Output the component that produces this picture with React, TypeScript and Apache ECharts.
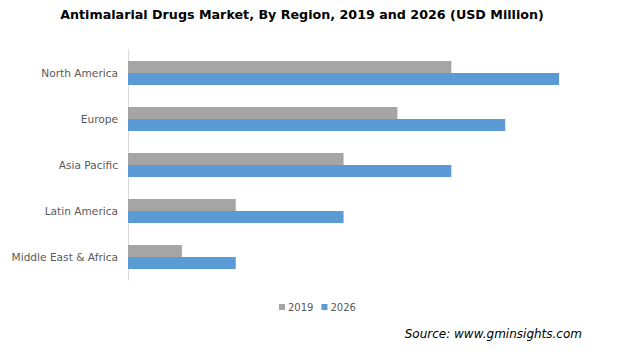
import React, { useEffect, useRef } from "react";
import * as echarts from "echarts";

const categories = ["North America", "Europe", "Asia Pacific", "Latin America", "Middle East & Africa"];
const values2019 = [6, 5, 4, 2, 1];
const values2026 = [8, 7, 6, 4, 2];
const seriesNames = ["2019", "2026"];

export default function App() {
  const ref = useRef<HTMLDivElement>(null);
  useEffect(() => {
    const chart = echarts.init(ref.current!, null, { renderer: "svg" });
    chart.setOption({
      animation: false,
      backgroundColor: "#ffffff",
      grid: { left: 128, top: 50, height: 230, width: 485, containLabel: false },
      xAxis: {
        type: "value",
        min: 0,
        max: 9,
        show: false,
      },
      yAxis: {
        type: "category",
        data: categories,
        inverse: true,
        axisLine: { show: true, lineStyle: { color: "#D9D9D9", width: 1 } },
        axisTick: { show: false },
        axisLabel: { color: "#595959", fontFamily: "DejaVu Sans", fontSize: 10.6, margin: 10 },
      },
      legend: {
        data: seriesNames,
        top: 297,
        left: 274,
        itemWidth: 6,
        itemHeight: 6,
        itemGap: 8,
        icon: "rect",
        textStyle: { color: "#595959", fontFamily: "DejaVu Sans", fontSize: 10, padding: [0, 0, 0, -2] },
      },
      series: [
        {
          name: seriesNames[0],
          type: "bar",
          data: values2019,
          barWidth: 12,
          barGap: "0%",
          itemStyle: { color: "#A5A5A5" },
        },
        {
          name: seriesNames[1],
          type: "bar",
          data: values2026,
          barWidth: 12,
          barGap: "0%",
          itemStyle: { color: "#5B9BD5" },
        },
      ],
      graphic: [
        {
          type: "text",
          x: 302,
          y: 14,
          style: {
            text: "Antimalarial Drugs Market, By Region, 2019 and 2026 (USD Million)",
            fontFamily: "DejaVu Sans",
            fontWeight: "bold",
            fontSize: 12.7,
            fill: "#000000",
            textAlign: "center",
            textVerticalAlign: "middle",
          },
        },
        {
          type: "text",
          x: 582,
          y: 334,
          style: {
            text: "Source: www.gminsights.com",
            fontFamily: "DejaVu Sans",
            fontStyle: "italic",
            fontSize: 12,
            fill: "#000000",
            textAlign: "right",
            textVerticalAlign: "middle",
          },
        },
      ],
    });
    return () => chart.dispose();
  }, []);
  return <div ref={ref} style={{ position: "absolute", left: 0, top: 0, width: 626, height: 352 }} />;
}
